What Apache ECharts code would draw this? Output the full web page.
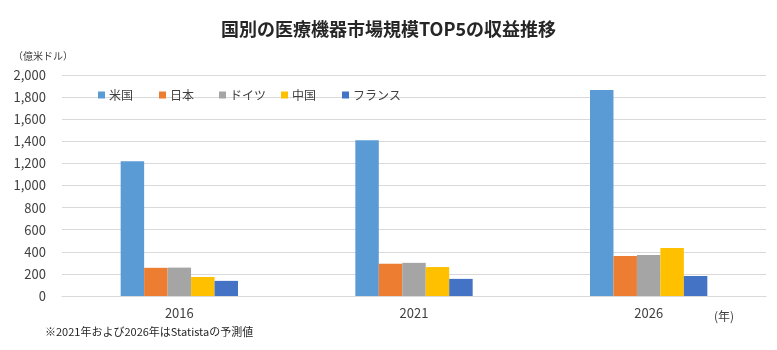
<!DOCTYPE html>
<html><head><meta charset="utf-8">
<script src="https://cdn.jsdelivr.net/npm/echarts@6/dist/echarts.min.js"></script>
<style>html,body{margin:0;padding:0;background:#fff}#c{width:777px;height:350px}</style>
</head><body><div id="c"></div>
<script>
const categories = ['2016', '2021', '2026'];
const seriesNames = ['米国', '日本', 'ドイツ', '中国', 'フランス'];
const usa = [1220, 1410, 1865];
const japan = [255, 292, 362];
const germany = [257, 300, 372];
const china = [172, 262, 435];
const france = [137, 155, 181];
const yTicks = [0, 200, 400, 600, 800, 1000, 1200, 1400, 1600, 1800, 2000];
const colors = ['#5B9BD5', '#ED7D31', '#A5A5A5', '#FFC000', '#4472C4'];
const values = [usa, japan, germany, china, france];
const FONT = '"Noto Sans CJK JP", "Noto Sans", sans-serif';
const legendLefts = [93, 154, 214, 276, 337];

const chart = echarts.init(document.getElementById('c'));
chart.setOption({
  animation: false,
  textStyle: { fontFamily: FONT },
  title: {
    text: '国別の医療機器市場規模TOP5の収益推移',
    left: 'center', top: 15,
    textStyle: { fontSize: 18, fontWeight: 'bold', color: '#262626', fontFamily: FONT }
  },
  legend: seriesNames.map((n, i) => ({
    data: [n],
    left: legendLefts[i], top: 84,
    itemWidth: 7, itemHeight: 7,
    icon: 'rect',
    textStyle: { fontSize: 12, color: '#404040', fontFamily: FONT, padding: [0, 0, 0, -1] }
  })),
  grid: { left: 62, right: 11, top: 75, bottom: 54 },
  xAxis: {
    type: 'category',
    data: categories,
    axisTick: { show: false },
    axisLine: { lineStyle: { color: '#d9d9d9' } },
    axisLabel: { color: '#404040', fontSize: 13, margin: 11, fontFamily: FONT }
  },
  yAxis: {
    type: 'value',
    min: yTicks[0], max: yTicks[yTicks.length - 1], interval: 200,
    axisLine: { show: false }, axisTick: { show: false },
    splitLine: { lineStyle: { color: '#d9d9d9' } },
    axisLabel: {
      color: '#404040', fontSize: 13, margin: 16, fontFamily: FONT,
      formatter: v => v.toLocaleString('en-US')
    }
  },
  graphic: [
    { type: 'text', left: 13, top: 51, style: { text: '（億米ドル）', fontSize: 10, fill: '#404040', fontFamily: FONT } },
    { type: 'text', left: 714, top: 310, style: { text: '(年)', fontSize: 12, fill: '#404040', fontFamily: FONT } },
    { type: 'text', left: 45, top: 326, style: { text: '※2021年および2026年はStatistaの予測値', fontSize: 11, fill: '#262626', fontFamily: FONT } }
  ],
  series: seriesNames.map((n, i) => ({
    name: n, type: 'bar', data: values[i],
    itemStyle: { color: colors[i] },
    barGap: '0%', barCategoryGap: '50%'
  }))
});
</script></body></html>
